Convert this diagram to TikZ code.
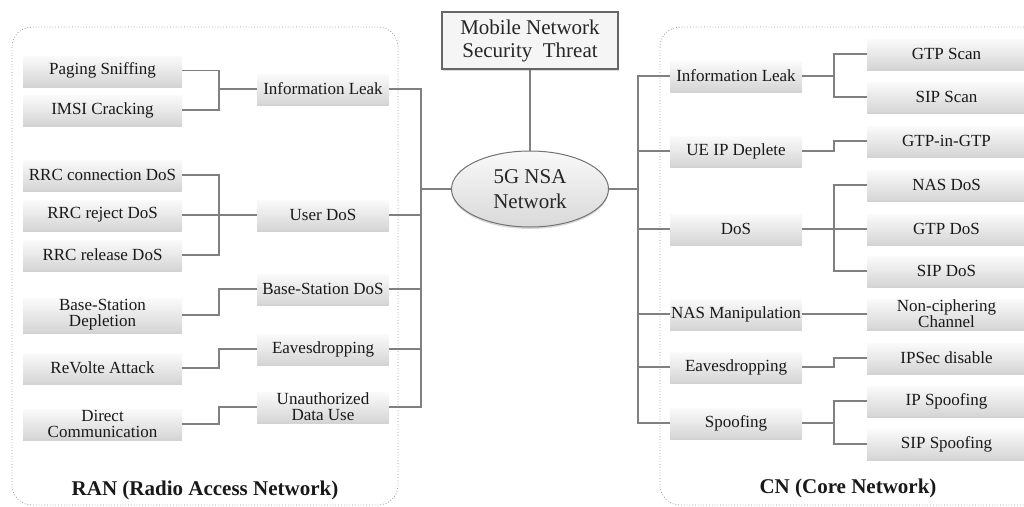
\documentclass[tikz,border=0pt]{standalone}
\usepackage{fontspec}
\setmainfont{Liberation Serif}
\usetikzlibrary{shapes.geometric,shadows}
\begin{document}
\begin{tikzpicture}[x=1pt,y=-1pt,
  conn/.style={draw=black!50, line width=1.2pt},
  box/.style={rectangle, inner sep=1pt, minimum height=29pt, align=center,
    text=black!90, font=\fontsize{17}{16}\selectfont,
    top color=gray!4, bottom color=gray!32,
    drop shadow={shadow xshift=0pt, shadow yshift=-2.5pt, opacity=0.35}},
  midbox/.style={box, minimum width=132pt},
  leafbox/.style={box, minimum width=159pt},
  panel/.style={draw=black!40, dotted, rounded corners=20pt, line width=0.8pt},
  plabel/.style={font=\fontsize{21}{24}\selectfont\bfseries, text=black!90}]
\useasboundingbox (0,0) rectangle (1024,506);
\clip (0,0) rectangle (1024,506);

% panels
\draw[panel] (12,27) rectangle (398,505);
\draw[panel] (660,27) rectangle (1045,505);
\node[plabel] (ranlbl) at (205,490) {RAN (Radio Access Network)};
\node[plabel] (cnlbl) at (848,488) {CN (Core Network)};

% centre
\node[rectangle, draw=black!60, line width=1.3pt, fill=gray!8,
  minimum width=176pt, minimum height=57pt, inner sep=1pt, align=center,
  font=\fontsize{21}{23}\selectfont, text=black!85,
  drop shadow={shadow xshift=1pt, shadow yshift=-1.5pt, opacity=0.25}]
  (top) at (530,40.5) {Mobile Network\\Security~~Threat};
\node[ellipse, draw=black!55, line width=1pt, top color=gray!5, bottom color=gray!30,
  minimum width=157pt, minimum height=76pt, inner sep=0pt, align=center,
  font=\fontsize{21}{25}\selectfont, text=black!85,
  drop shadow={shadow xshift=0pt, shadow yshift=-2pt, opacity=0.3}]
  (nsa) at (530,189) {5G NSA\\Network};

% left leaves
\node[leafbox] (ps)   at (102.5,70.5) {Paging Sniffing};
\node[leafbox] (imsi) at (102.5,110) {IMSI Cracking};
\node[leafbox] (rrcc) at (102.5,175) {RRC connection DoS};
\node[leafbox] (rrcj) at (102.5,215) {RRC reject DoS};
\node[leafbox] (rrcr) at (102.5,255) {RRC release DoS};
\node[leafbox] (bsd)  at (102.5,315) {Base-Station\\Depletion};
\node[leafbox] (rev)  at (102.5,368) {ReVolte Attack};
\node[leafbox] (dc)   at (102.5,424) {Direct\\Communication};

% left mids
\node[midbox] (lil)   at (323,89) {Information Leak};
\node[midbox] (udos)  at (323,215) {User DoS};
\node[midbox] (bsdos) at (323,289) {Base-Station DoS};
\node[midbox] (leav)  at (323,349) {Eavesdropping};
\node[midbox] (uadu)  at (323,407) {Unauthorized\\Data Use};

% right mids
\node[midbox] (ril)  at (736,76) {Information Leak};
\node[midbox] (ueip) at (736,151) {UE IP Deplete};
\node[midbox] (dos)  at (736,229) {DoS};
\node[midbox] (nasm) at (736,314) {NAS Manipulation};
\node[midbox] (reav) at (736,367) {Eavesdropping};
\node[midbox] (spf)  at (736,423) {Spoofing};

% right leaves
\node[leafbox] (gtps)   at (946.5,54) {GTP Scan};
\node[leafbox] (sips)   at (946.5,97) {SIP Scan};
\node[leafbox] (gig)    at (946.5,141) {GTP-in-GTP};
\node[leafbox] (nasdos) at (946.5,185) {NAS DoS};
\node[leafbox] (gtpdos) at (946.5,229) {GTP DoS};
\node[leafbox] (sipdos) at (946.5,271) {SIP DoS};
\node[leafbox] (ncc)    at (946.5,314) {Non-ciphering\\Channel};
\node[leafbox] (ipsec)  at (946.5,358) {IPSec disable};
\node[leafbox] (ipsp)   at (946.5,401) {IP Spoofing};
\node[leafbox] (sipsp)  at (946.5,444) {SIP Spoofing};

% junction coordinates
\coordinate (jL) at (219,0);
\coordinate (bL) at (421,0);
\coordinate (bR) at (638,0);
\coordinate (jR) at (834,0);

% top link
\draw[conn] (top.south) -- (nsa.north);

% left leaf -> mid
\draw[conn] (ps.east) -- (ps.east -| jL) |- (lil.west);
\draw[conn] (imsi.east) -- (imsi.east -| jL) |- (lil.west);
\draw[conn] (rrcc.east) -- (rrcc.east -| jL) |- (udos.west);
\draw[conn] (rrcj.east) -- (udos.west);
\draw[conn] (rrcr.east) -- (rrcr.east -| jL) |- (udos.west);
\draw[conn] (bsd.east) -- (bsd.east -| jL) |- (bsdos.west);
\draw[conn] (rev.east) -- (rev.east -| jL) |- (leav.west);
\draw[conn] (dc.east) -- (dc.east -| jL) |- (uadu.west);

% left mids -> centre
\foreach \m in {lil,udos,bsdos,leav,uadu}
  \draw[conn] (\m.east) -- (\m.east -| bL) |- (nsa.west);

% centre -> right mids
\foreach \m in {ril,ueip,dos,nasm,reav,spf}
  \draw[conn] (nsa.east) -- (nsa.east -| bR) |- (\m.west);

% right mid -> leaves
\draw[conn] (ril.east) -- (ril.east -| jR) |- (gtps.west);
\draw[conn] (ril.east) -- (ril.east -| jR) |- (sips.west);
\draw[conn] (ueip.east) -- (ueip.east -| jR) |- (gig.west);
\draw[conn] (dos.east) -- (dos.east -| jR) |- (nasdos.west);
\draw[conn] (dos.east) -- (gtpdos.west);
\draw[conn] (dos.east) -- (dos.east -| jR) |- (sipdos.west);
\draw[conn] (nasm.east) -- (ncc.west);
\draw[conn] (reav.east) -- (reav.east -| jR) |- (ipsec.west);
\draw[conn] (spf.east) -- (spf.east -| jR) |- (ipsp.west);
\draw[conn] (spf.east) -- (spf.east -| jR) |- (sipsp.west);
\end{tikzpicture}
\end{document}
